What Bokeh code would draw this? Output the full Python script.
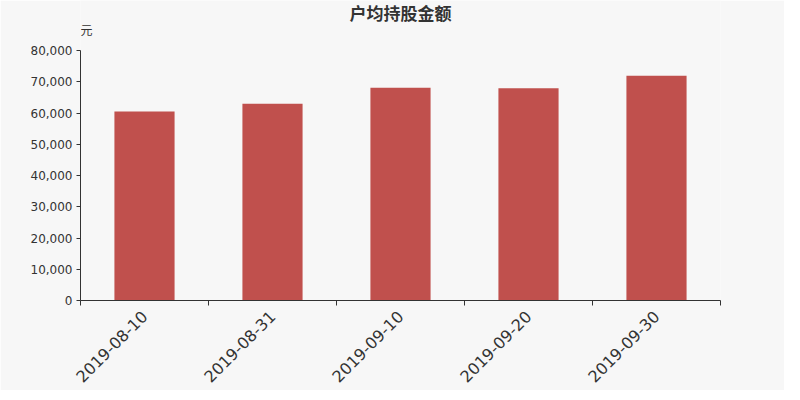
import math
from bokeh.plotting import figure
from bokeh.models import (ColumnDataSource, Range1d, FixedTicker, NumeralTickFormatter, Label)
from bokeh.embed import file_html
from bokeh.resources import INLINE

categories = ["2019-08-10", "2019-08-31", "2019-09-10", "2019-09-20", "2019-09-30"]
amounts = [60500, 63000, 68100, 67900, 71900]
y_ticks = [0, 10000, 20000, 30000, 40000, 50000, 60000, 70000, 80000]
title_text = "户均持股金额"
unit_text = "元"

BG = "#f7f7f7"
BAR = "#c0504d"
AX = "#333333"

AXIS_H = 250      # pixel height of the 0..80000 axis
TOP_PAD = 50      # pixels above the axis top (title area, kept inside the frame)
y_max = max(y_ticks)
y_end = y_max * (AXIS_H + TOP_PAD) / AXIS_H

xs = [i + 0.5 for i in range(len(categories))]
src = ColumnDataSource(dict(x=xs, top=amounts))

p = figure(frame_width=640, frame_height=AXIS_H + TOP_PAD, output_backend="svg", toolbar_location=None,
           x_range=Range1d(0, len(categories)), y_range=Range1d(0, y_end),
           background_fill_color=BG, border_fill_color=BG,
           min_border_left=80, min_border_right=64, min_border_top=0, min_border_bottom=84)
p.outline_line_color = None
p.grid.visible = False

p.vbar(x="x", top="top", width=0.47, source=src, fill_color=BAR, line_color=None)

xt = FixedTicker(ticks=xs, minor_ticks=list(range(len(categories) + 1)))
p.xaxis.ticker = xt
p.xaxis.major_label_overrides = {x: c for x, c in zip(xs, categories)}
p.xaxis.major_tick_line_color = None
p.xaxis.minor_tick_line_color = AX
p.xaxis.minor_tick_out = 5
p.xaxis.minor_tick_in = 0
p.xaxis.major_label_orientation = math.pi / 4
p.xaxis.major_label_text_font_size = "16px"
p.xaxis.major_label_text_font = "DejaVu Sans"
p.xaxis.major_label_text_color = AX
p.xaxis.major_label_standoff = 7
p.xaxis.axis_line_color = AX

p.yaxis.ticker = FixedTicker(ticks=y_ticks)
p.yaxis.bounds = (0, y_max)
p.yaxis.formatter = NumeralTickFormatter(format="0,0")
p.yaxis.major_label_text_font_size = "12px"
p.yaxis.major_label_text_font = "DejaVu Sans"
p.yaxis.major_label_text_color = AX
p.yaxis.major_tick_out = 4
p.yaxis.major_tick_in = 0
p.yaxis.minor_tick_line_color = None
p.yaxis.major_tick_line_color = AX
p.yaxis.axis_line_color = AX
p.yaxis.major_label_standoff = 4

p.add_layout(Label(x=len(categories) / 2, y=y_max, y_offset=38, text=title_text,
                   text_align="center", text_baseline="middle",
                   text_font="Noto Sans CJK SC", text_font_style="bold",
                   text_font_size="17px", text_color=AX))
p.add_layout(Label(x=0, y=y_max, y_offset=21, text=unit_text,
                   text_align="left", text_baseline="middle",
                   text_font="Noto Sans CJK SC",
                   text_font_size="12px", text_color=AX))

open("out.html", "w").write(file_html(p, INLINE))
